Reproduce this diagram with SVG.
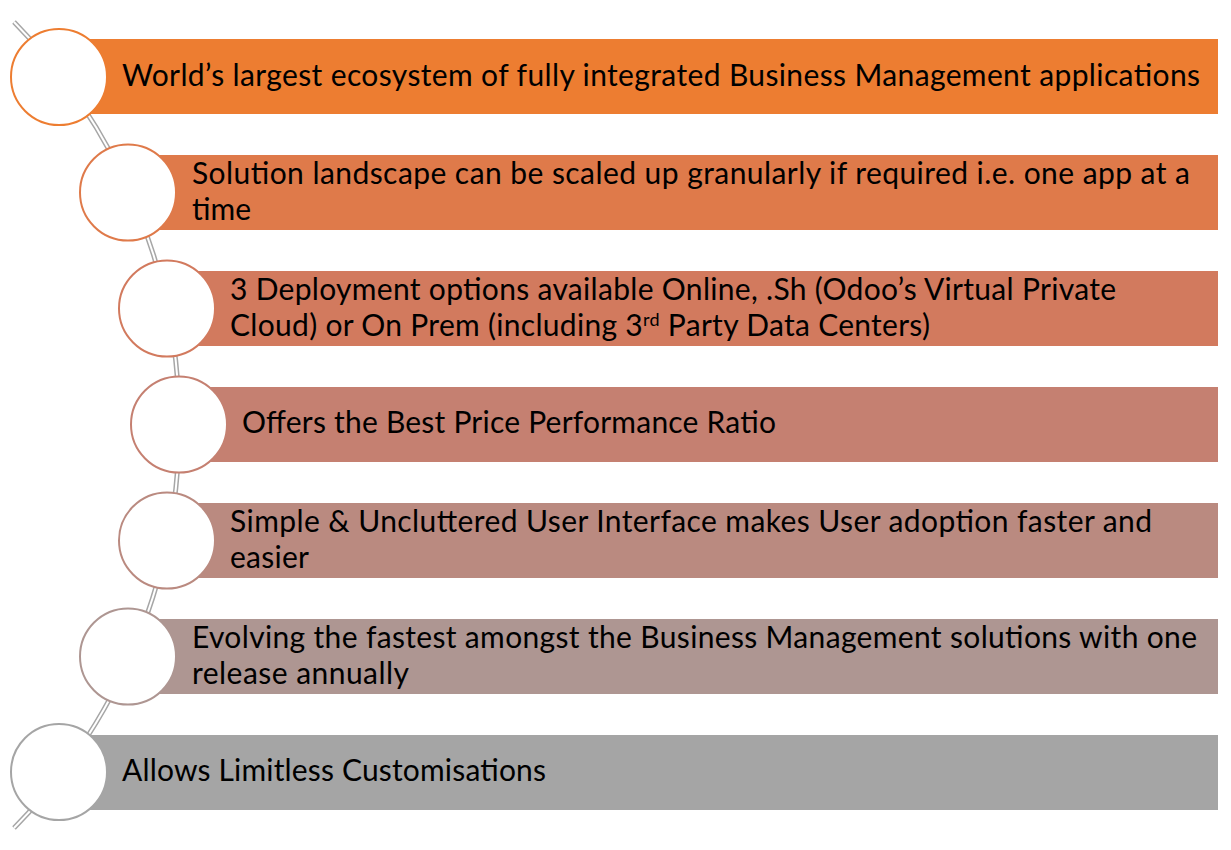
<svg xmlns="http://www.w3.org/2000/svg" width="1231" height="850" viewBox="0 0 1231 850">
  <style>
    .lbl { font-family: "Lato", "Liberation Sans", sans-serif; font-size: 30px; fill: #000000; }
    .sup { font-size: 18px; }
    .dot { fill: #ffffff; stroke-width: 2; }
    .rail-outer { fill: none; stroke: #a6a6a6; stroke-width: 5; }
    .rail-inner { fill: none; stroke: #ffffff; stroke-width: 2; }
  </style>
  <rect width="1231" height="850" fill="#ffffff"/>

  <!-- curved double rail linking the steps -->
  <g id="connectors">
    <path class="rail-outer" d="M 14 22 A 574 574 0 0 1 14 828"/>
    <path class="rail-inner" d="M 14 22 A 574 574 0 0 1 14 828"/>
  </g>

  <g id="step1">
    <rect x="59" y="39" width="1159" height="75" fill="#ed7d31"/>
    <circle class="dot" cx="59" cy="77" r="48" stroke="#ed7d31"/>
    <text class="lbl" x="122" y="86" textLength="1078">World’s largest ecosystem of fully integrated Business Management applications</text>
  </g>

  <g id="step2">
    <rect x="128" y="155" width="1090" height="75" fill="#df7a4a"/>
    <circle class="dot" cx="128" cy="192.5" r="48" stroke="#df7a4a"/>
    <text class="lbl" x="192" y="184" textLength="998">Solution landscape can be scaled up granularly if required i.e. one app at a</text>
    <text class="lbl" x="192" y="220" textLength="59">time</text>
  </g>

  <g id="step3">
    <rect x="167" y="271" width="1051" height="75" fill="#d27a5e"/>
    <circle class="dot" cx="167" cy="308.5" r="48" stroke="#d27a5e"/>
    <text class="lbl" x="230" y="300" textLength="886">3 Deployment options available Online, .Sh (Odoo’s Virtual Private</text>
    <text class="lbl" x="230" y="336" textLength="700">Cloud) or On Prem (including 3<tspan class="sup" dy="-10">rd</tspan><tspan dy="10"> Party Data Centers)</tspan></text>
  </g>

  <g id="step4">
    <rect x="179" y="387" width="1039" height="75" fill="#c58071"/>
    <circle class="dot" cx="179" cy="424.5" r="48" stroke="#c58071"/>
    <text class="lbl" x="242" y="433" textLength="534">Offers the Best Price Performance Ratio</text>
  </g>

  <g id="step5">
    <rect x="167" y="503" width="1051" height="75" fill="#ba8a80"/>
    <circle class="dot" cx="167" cy="540.5" r="48" stroke="#ba8a80"/>
    <text class="lbl" x="230" y="532" textLength="922">Simple &amp; Uncluttered User Interface makes User adoption faster and</text>
    <text class="lbl" x="230" y="568" textLength="79">easier</text>
  </g>

  <g id="step6">
    <rect x="128" y="619" width="1090" height="75" fill="#ae9692"/>
    <circle class="dot" cx="128" cy="656.5" r="48" stroke="#ae9692"/>
    <text class="lbl" x="192" y="648" textLength="1005">Evolving the fastest amongst the Business Management solutions with one</text>
    <text class="lbl" x="192" y="684" textLength="217">release annually</text>
  </g>

  <g id="step7">
    <rect x="59" y="735" width="1159" height="75" fill="#a5a5a5"/>
    <circle class="dot" cx="59" cy="772" r="48" stroke="#a5a5a5"/>
    <text class="lbl" x="122" y="781" textLength="424">Allows Limitless Customisations</text>
  </g>
</svg>
